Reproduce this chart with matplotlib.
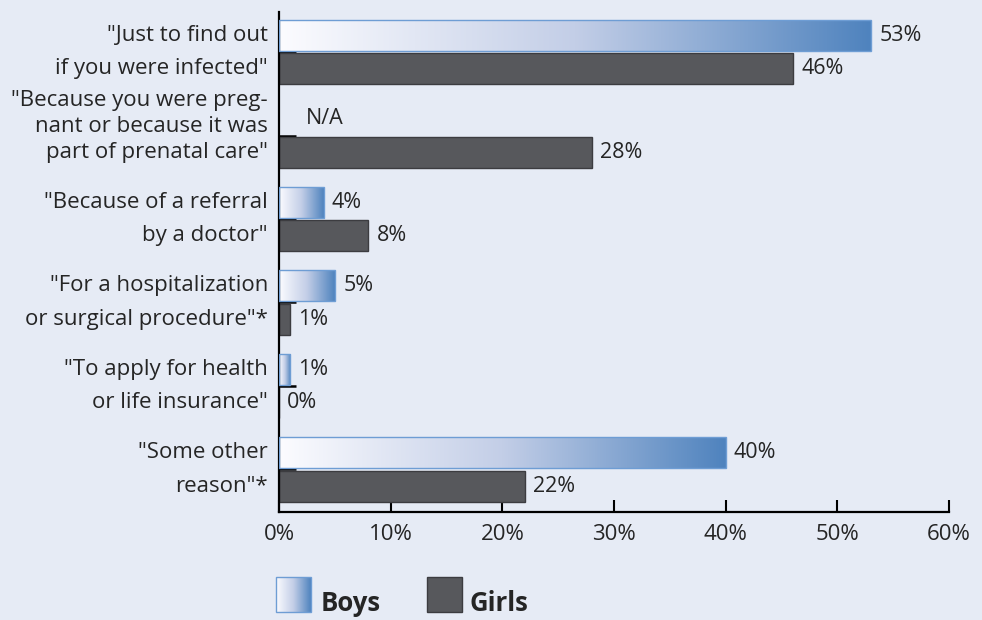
import numpy as np
import matplotlib.pyplot as plt
from matplotlib.colors import LinearSegmentedColormap
from matplotlib.patches import Rectangle

categories = [
    '"Just to find out\nif you were infected"',
    '"Because you were preg-\nnant or because it was\npart of prenatal care"',
    '"Because of a referral\nby a doctor"',
    '"For a hospitalization\nor surgical procedure"*',
    '"To apply for health\nor life insurance"',
    '"Some other\nreason"*',
]
boys = [53, None, 4, 5, 1, 40]
girls = [46, 28, 8, 1, 0, 22]
xticks = [0, 10, 20, 30, 40, 50, 60]

plt.rcParams['font.family'] = ['Open Sans', 'DejaVu Sans']

bg = '#e6ebf5'
text_col = '#252525'
girl_col = '#57585c'
boy_edge = '#6e9dd4'
boy_cmap = LinearSegmentedColormap.from_list(
    'boys', [(0, '#fcfcff'), (0.5, '#c3cee7'), (1, '#4f83be')])
grad = np.linspace(0, 1, 256).reshape(1, -1)

fig = plt.figure(figsize=(9.82, 6.2), dpi=100)
fig.patch.set_facecolor(bg)
ax = fig.add_axes([279 / 982, 108 / 620, 670 / 982, 500 / 620])
ax.set_facecolor(bg)

y = np.arange(len(categories))
bh = 0.37
off = 0.2

ax.barh(y + off, girls, height=bh, color=girl_col, edgecolor='#3c3c40',
        linewidth=1, zorder=2)

boy_vals = [0 if v is None else v for v in boys]
boy_bars = ax.barh(y - off, boy_vals, height=bh, facecolor='none',
                   edgecolor=boy_edge, linewidth=1, zorder=3)

# gradient fill for each boys bar, stretched to the bar's own length
for bar, v in zip(boy_bars, boys):
    if not v:
        bar.set_visible(False)
        continue
    x0, y0 = bar.get_x(), bar.get_y()
    w, h = bar.get_width(), bar.get_height()
    ax.imshow(grad, cmap=boy_cmap, aspect='auto', interpolation='bicubic',
              extent=(x0, x0 + w, y0 + h, y0), zorder=2)

# value labels
for yc, v in zip(y, boys):
    if v is None:
        ax.annotate('N/A', xy=(0, yc - off), xytext=(19, 0),
                    textcoords='offset points', va='center', fontsize=15.5,
                    color=text_col)
    else:
        ax.annotate(f'{v}%', xy=(v, yc - off), xytext=(6, 0),
                    textcoords='offset points', va='center', fontsize=15.5,
                    color=text_col)
for yc, v in zip(y, girls):
    ax.annotate(f'{v}%', xy=(v, yc + off), xytext=(6, 0),
                textcoords='offset points', va='center', fontsize=15.5,
                color=text_col)

# category labels, last line lined up with the girls bar
for yc, label in zip(y, categories):
    lines = label.split('\n')
    n = len(lines)
    step = 0.4 if n == 2 else 0.31
    for k, line in enumerate(lines):
        ly = yc + off - step * (n - 1 - k)
        ax.annotate(line, xy=(0, ly), xytext=(-8, 0),
                    textcoords='offset points', ha='right', va='center',
                    fontsize=16, color=text_col)

ax.set_xlim(0, 60)
ax.set_ylim(5.51, -0.48)
ax.set_xticks(xticks)
ax.set_xticklabels([f'{t}%' for t in xticks])
ax.set_yticks(y)
ax.set_yticklabels([])
ax.tick_params(axis='x', direction='in', length=9, width=1.5, pad=9,
               labelsize=16, labelcolor=text_col)
ax.tick_params(axis='y', direction='in', length=12, width=1.8)
for s in ['top', 'right']:
    ax.spines[s].set_visible(False)
for s in ['left', 'bottom']:
    ax.spines[s].set_linewidth(1.6)

# legend drawn in figure pixel space
lax = fig.add_axes([0, 0, 1, 1])
lax.axis('off')
lax.patch.set_visible(False)
lax.imshow(grad, cmap=boy_cmap, aspect='auto', interpolation='bicubic',
           extent=(276, 311, 612, 577))
lax.add_patch(Rectangle((276, 577), 35, 35, facecolor='none',
                        edgecolor=boy_edge, linewidth=1))
lax.add_patch(Rectangle((427, 577), 35, 35, facecolor=girl_col,
                        edgecolor='#3c3c40', linewidth=1))
lax.text(321, 611, 'Boys', fontsize=18.5, fontweight='bold', color=text_col,
         va='baseline')
lax.text(470, 611, 'Girls', fontsize=18.5, fontweight='bold', color=text_col,
         va='baseline')
lax.set_xlim(0, 982)
lax.set_ylim(620, 0)

fig.savefig('out.png', dpi=100, facecolor=bg)
